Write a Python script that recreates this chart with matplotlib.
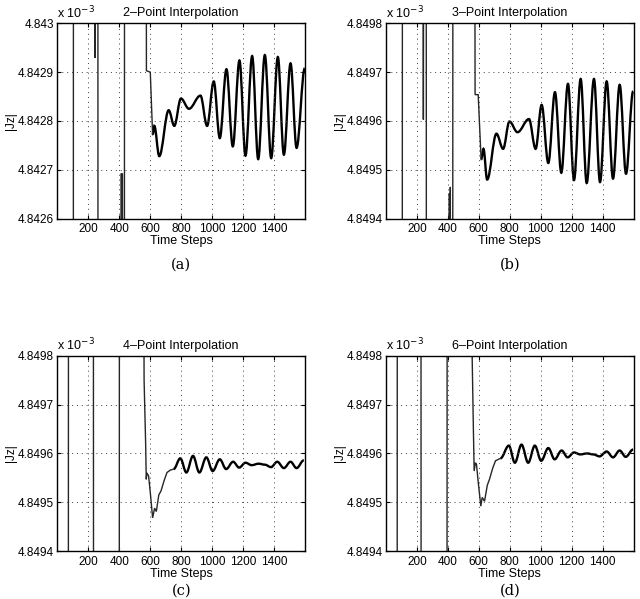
import matplotlib
matplotlib.use('Agg')
import matplotlib.pyplot as plt
from matplotlib.path import Path
from matplotlib.patches import PathPatch
from matplotlib.ticker import FixedLocator, FixedFormatter

plt.rcParams['font.family'] = ['Liberation Sans', 'DejaVu Sans']

# ---------------- data ----------------
titles = ['2\u2013Point Interpolation', '3\u2013Point Interpolation',
          '4\u2013Point Interpolation', '6\u2013Point Interpolation']
panel_tags = ['(a)', '(b)', '(c)', '(d)']
xticks = [200, 400, 600, 800, 1000, 1200, 1400]
x_range = [0, 1600]

a_yticks = [4.8426, 4.8427, 4.8428, 4.8429, 4.8430]
a_yticklabels = ['4.8426', '4.8427', '4.8428', '4.8429', '4.843']
bcd_yticks = [4.8494, 4.8495, 4.8496, 4.8497, 4.8498]
bcd_yticklabels = ['4.8494', '4.8495', '4.8496', '4.8497', '4.8498']

# |Jz| in units of 1e-3 ; early transient (straight segments, large excursions)
a_early_x = [0, 102, 104, 240, 244, 248, 261, 263, 409, 411, 420, 422, 432, 434,
             572, 575, 600, 615]
a_early_y = [4.8410, 4.8410, 4.8440, 4.8440, 4.842929, 4.8440, 4.8440, 4.8410,
             4.8410, 4.842692, 4.842692, 4.8410, 4.8410, 4.8440,
             4.8440, 4.842903, 4.842900, 4.842772]
# smooth part: successive extrema of the oscillation
a_smooth_x = [615, 626, 658, 719, 755, 798, 850, 924, 967, 1010, 1049, 1092, 1133,
              1176, 1215, 1258, 1297, 1340, 1381, 1424, 1463, 1506, 1545, 1598]
a_smooth_y = [4.842772, 4.842790, 4.842728, 4.842822, 4.842790, 4.842846, 4.842825,
              4.842852, 4.842790, 4.842881, 4.842765, 4.842906, 4.842748, 4.842924,
              4.842729, 4.842933, 4.842722, 4.842935, 4.842724, 4.842931, 4.842731,
              4.842918, 4.842745, 4.842908]

b_early_x = [1, 3, 105, 107, 238, 242, 246, 260, 262, 408, 410, 413, 416, 419, 431,
             433, 572, 576, 596, 615]
b_early_y = [4.849665, 4.8485, 4.8485, 4.8505, 4.8505, 4.849603, 4.8505, 4.8505,
             4.8485, 4.8485, 4.849452, 4.8485, 4.849465, 4.8485, 4.8485,
             4.8505, 4.8505, 4.849654, 4.849654, 4.849521]
b_smooth_x = [615, 630, 654, 714, 757, 798, 850, 924, 967, 1006, 1049, 1092, 1133,
              1176, 1215, 1258, 1297, 1344, 1383, 1426, 1467, 1510, 1551, 1597]
b_smooth_y = [4.849521, 4.849543, 4.849480, 4.849574, 4.849543, 4.849599, 4.849577,
              4.849604, 4.849543, 4.849633, 4.849514, 4.849659, 4.849494, 4.849676,
              4.849479, 4.849686, 4.849473, 4.849686, 4.849475, 4.849681, 4.849482,
              4.849674, 4.849492, 4.849661]

c_early_x = [0, 70, 72, 232, 234, 399, 401, 553, 560, 570, 574, 578, 589, 600, 615,
             628, 639, 655, 669, 690, 708, 730, 751]
c_early_y = [4.8485, 4.8485, 4.8505, 4.8505, 4.8485, 4.8485, 4.8505, 4.8505,
             4.84975, 4.84962, 4.849547, 4.849560, 4.849554, 4.849520, 4.849468,
             4.849488, 4.849481, 4.849515, 4.849523, 4.849545, 4.849561, 4.849566,
             4.849568]
c_smooth_x = [751, 794, 833, 876, 917, 962, 1003, 1049, 1090, 1135, 1174, 1215, 1255,
              1300, 1340, 1380, 1420, 1463, 1506, 1545, 1592]
c_smooth_y = [4.849568, 4.849590, 4.849561, 4.849595, 4.849561, 4.849592, 4.849564,
              4.849588, 4.849568, 4.849583, 4.849571, 4.849581, 4.849576, 4.849579,
              4.849577, 4.849572, 4.849583, 4.849570, 4.849583, 4.849570, 4.849586]

d_early_x = [0, 72, 74, 226, 228, 394, 396, 549, 557, 565, 570, 578, 585, 595, 613,
             622, 637, 655, 669, 690, 708, 740]
d_early_y = [4.8485, 4.8485, 4.8505, 4.8505, 4.8485, 4.8485, 4.8505, 4.8505,
             4.84980, 4.84965, 4.849564, 4.849581, 4.849578, 4.849545, 4.849492,
             4.849510, 4.849502, 4.849535, 4.849547, 4.849570, 4.849585, 4.849590]
d_smooth_x = [740, 794, 833, 876, 919, 962, 1003, 1049, 1090, 1135, 1174, 1215, 1255,
              1300, 1340, 1380, 1426, 1467, 1510, 1549, 1597]
d_smooth_y = [4.849590, 4.849616, 4.849581, 4.849618, 4.849581, 4.849616, 4.849585,
              4.849611, 4.849588, 4.849606, 4.849592, 4.849602, 4.849598, 4.849600,
              4.849598, 4.849594, 4.849604, 4.849592, 4.849606, 4.849593, 4.849608]

panels = [
    (a_early_x, a_early_y, a_smooth_x, a_smooth_y, a_yticks, a_yticklabels),
    (b_early_x, b_early_y, b_smooth_x, b_smooth_y, bcd_yticks, bcd_yticklabels),
    (c_early_x, c_early_y, c_smooth_x, c_smooth_y, bcd_yticks, bcd_yticklabels),
    (d_early_x, d_early_y, d_smooth_x, d_smooth_y, bcd_yticks, bcd_yticklabels),
]

# ---------------- layout ----------------
fig = plt.figure(figsize=(6.40, 5.99), dpi=100)
W, H = 0.387, 0.326
positions = [(0.0897, 0.635), (0.603, 0.635), (0.0897, 0.080), (0.603, 0.080)]
tag_y = [-0.235, -0.235, -0.205, -0.205]


def smooth_path(xs, ys):
    verts = [(xs[0], ys[0])]
    codes = [Path.MOVETO]
    for i in range(1, len(xs)):
        x0, y0, x1, y1 = xs[i - 1], ys[i - 1], xs[i], ys[i]
        dx = x1 - x0
        verts += [(x0 + 0.36 * dx, y0), (x1 - 0.36 * dx, y1), (x1, y1)]
        codes += [Path.CURVE4] * 3
    return Path(verts, codes)


for i, (ex, ey, sx, sy, yt, ytl) in enumerate(panels):
    ax = fig.add_axes([positions[i][0], positions[i][1], W, H])
    ax.plot(ex, ey, color='0.15', lw=1.0, solid_joinstyle='miter')
    ax.add_patch(PathPatch(smooth_path(sx, sy), fill=False, edgecolor='black',
                           lw=1.7))
    ax.set_xlim(x_range)
    ax.set_ylim(yt[0], yt[-1])
    ax.xaxis.set_major_locator(FixedLocator(xticks))
    ax.yaxis.set_major_locator(FixedLocator(yt))
    ax.yaxis.set_major_formatter(FixedFormatter(ytl))
    ax.grid(True, color='0.25', linestyle=(0, (1, 4)), lw=0.7)
    ax.tick_params(direction='in', length=3, width=0.8, labelsize=8.5,
                   top=True, right=True, pad=3.5)
    ax.tick_params(axis='y', pad=2.5)
    for s in ax.spines.values():
        s.set_linewidth(1.0)
    ax.set_title(titles[i], fontsize=9, pad=5)
    ax.text(0.0, 1.012, 'x 10$^{-3}$', transform=ax.transAxes, fontsize=9,
            ha='left', va='bottom')
    ax.set_xlabel('Time Steps', fontsize=9, labelpad=0)
    ax.set_ylabel('|Jz|', fontsize=8.5, labelpad=2)
    ax.yaxis.set_label_coords(-0.163, 0.5)
    ax.text(0.5, tag_y[i], panel_tags[i], transform=ax.transAxes, fontsize=10.5,
            family='DejaVu Serif', ha='center', va='center')

fig.savefig('out.png', dpi=100)
